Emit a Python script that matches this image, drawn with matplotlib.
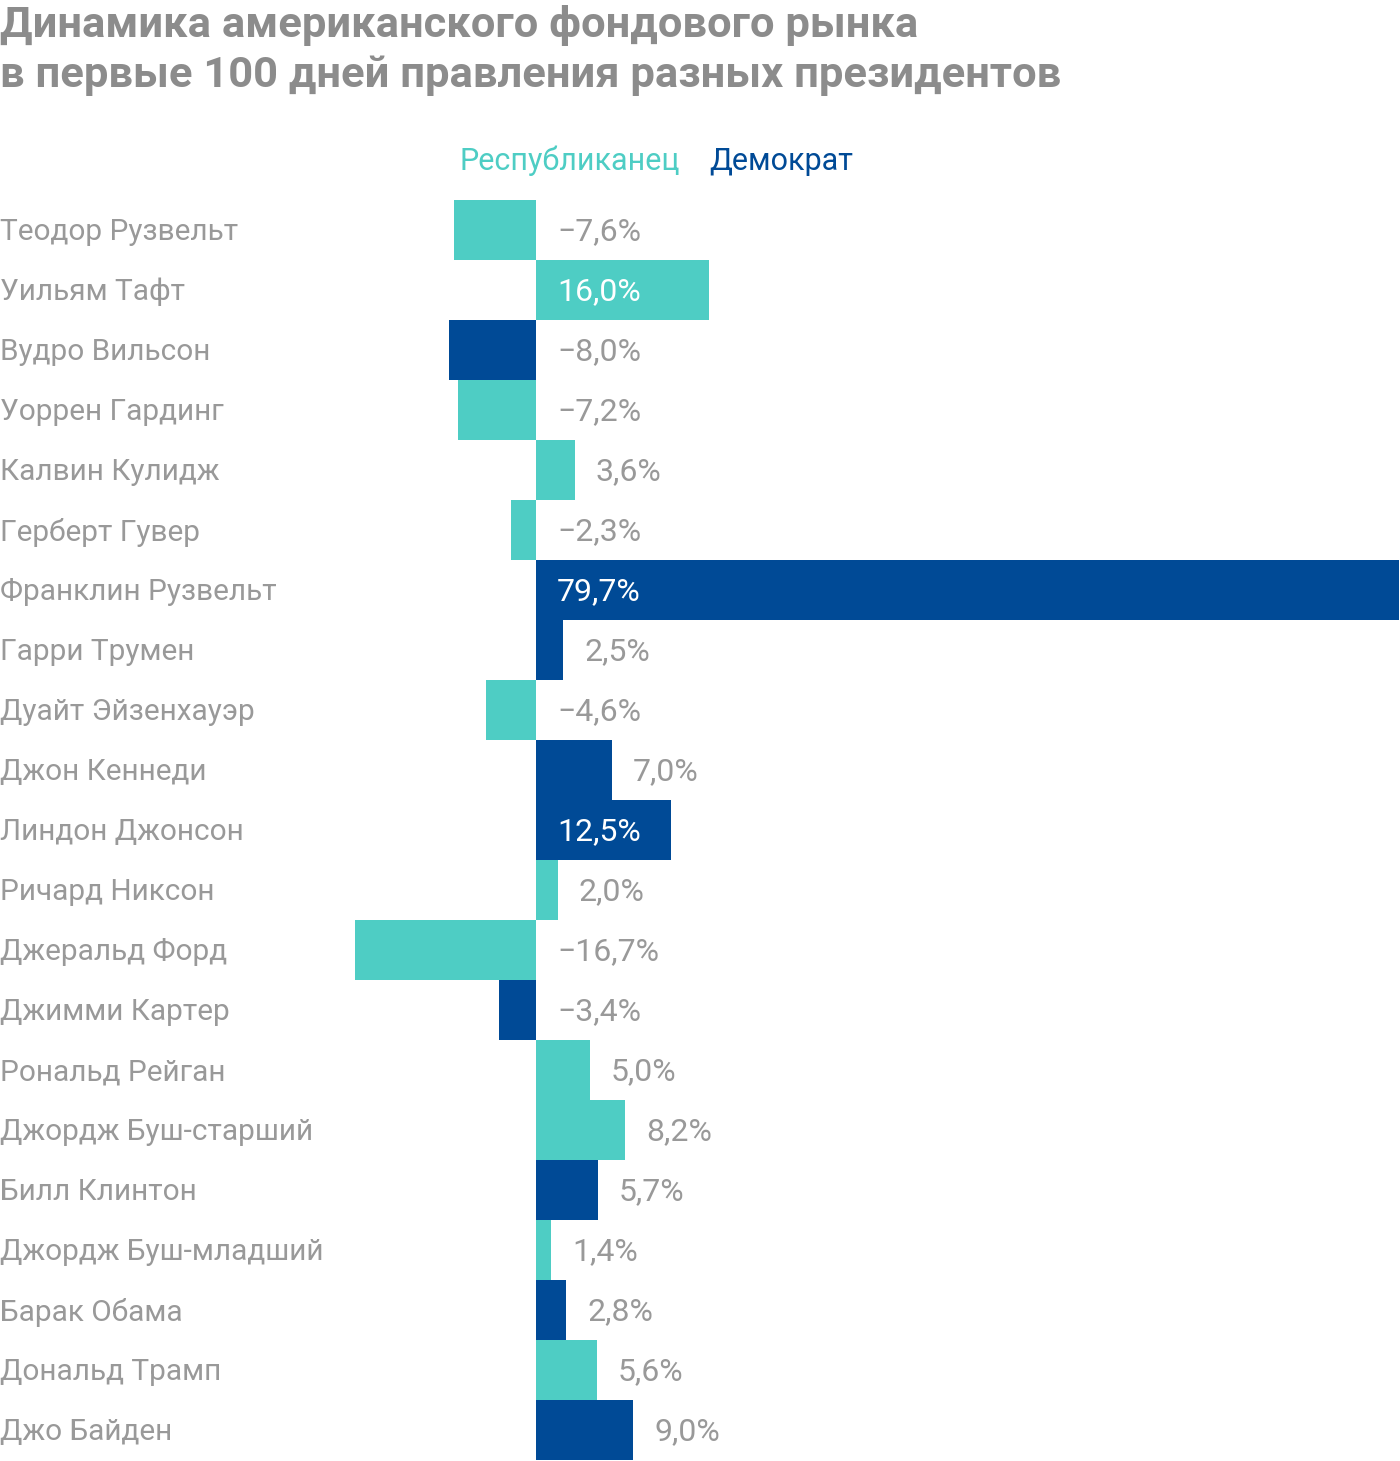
import numpy as np
import matplotlib
matplotlib.use('Agg')
import matplotlib.pyplot as plt
from matplotlib.transforms import blended_transform_factory

### Data
names = ['Теодор Рузвельт', 'Уильям Тафт', 'Вудро Вильсон', 'Уоррен Гардинг',
         'Калвин Кулидж', 'Герберт Гувер', 'Франклин Рузвельт', 'Гарри Трумен',
         'Дуайт Эйзенхауэр', 'Джон Кеннеди', 'Линдон Джонсон', 'Ричард Никсон',
         'Джеральд Форд', 'Джимми Картер', 'Рональд Рейган', 'Джордж Буш-старший',
         'Билл Клинтон', 'Джордж Буш-младший', 'Барак Обама', 'Дональд Трамп',
         'Джо Байден']
changes = [-7.6, 16.0, -8.0, -7.2, 3.6, -2.3, 79.7, 2.5, -4.6, 7.0, 12.5,
           2.0, -16.7, -3.4, 5.0, 8.2, 5.7, 1.4, 2.8, 5.6, 9.0]
party = ['R', 'R', 'D', 'R', 'R', 'R', 'D', 'D', 'R', 'D', 'D',
         'R', 'R', 'D', 'R', 'R', 'D', 'R', 'D', 'R', 'D']

### Style
TEAL = '#4ecdc4'
BLUE = '#004a96'
GRAY = '#999999'
TITLE_GRAY = '#8c8c8c'
plt.rcParams['font.family'] = ['Roboto', 'DejaVu Sans']

W, H = 1400, 1461
fig = plt.figure(figsize=(W / 100, H / 100), dpi=100)

# axes: full width, rows from y=200 px to y=1460 px
ax = fig.add_axes([0, (H - 1460) / H, 1, 1260 / H])
scale = 863 / 79.7                      # px per percent
ax.set_xlim(-536 / scale, (W - 536) / scale)
ax.set_ylim(len(names) - 0.5, -0.5)
ax.axis('off')

y = np.arange(len(names))
colors = [BLUE if p == 'D' else TEAL for p in party]
ax.barh(y, changes, height=1.0, color=colors, linewidth=0)

names_tr = blended_transform_factory(fig.transFigure, ax.transData)
pad = 21 / scale
dy = 0.035   # text sits a touch below row centre
for i, (n, v) in enumerate(zip(names, changes)):
    ax.text(0.0, i + dy, n, transform=names_tr, ha='left', va='center',
            fontsize=21.4, color=GRAY)
    lab = f'{v:.1f}%'.replace('.', ',').replace('-', '\u2212')
    if v > 10:
        ax.text(pad, i + dy, lab, ha='left', va='center', fontsize=23, color='white')
    elif v > 0:
        ax.text(v + pad, i + dy, lab, ha='left', va='center', fontsize=23, color=GRAY)
    else:
        ax.text(pad, i + dy, lab, ha='left', va='center', fontsize=23, color=GRAY)

# title
fig.text(0, 1 - 25 / H, 'Динамика американского фондового рынка',
         ha='left', va='center', fontsize=31.3, fontweight='bold', color=TITLE_GRAY)
fig.text(0, 1 - 75 / H, 'в первые 100 дней правления разных президентов',
         ha='left', va='center', fontsize=31.3, fontweight='bold', color=TITLE_GRAY)

# legend
fig.text(459 / W, 1 - 161 / H, 'Республиканец', ha='left', va='center',
         fontsize=22, color=TEAL)
fig.text(709 / W, 1 - 161 / H, 'Демократ', ha='left', va='center',
         fontsize=22, color=BLUE)

fig.savefig('out.png', dpi=100)
